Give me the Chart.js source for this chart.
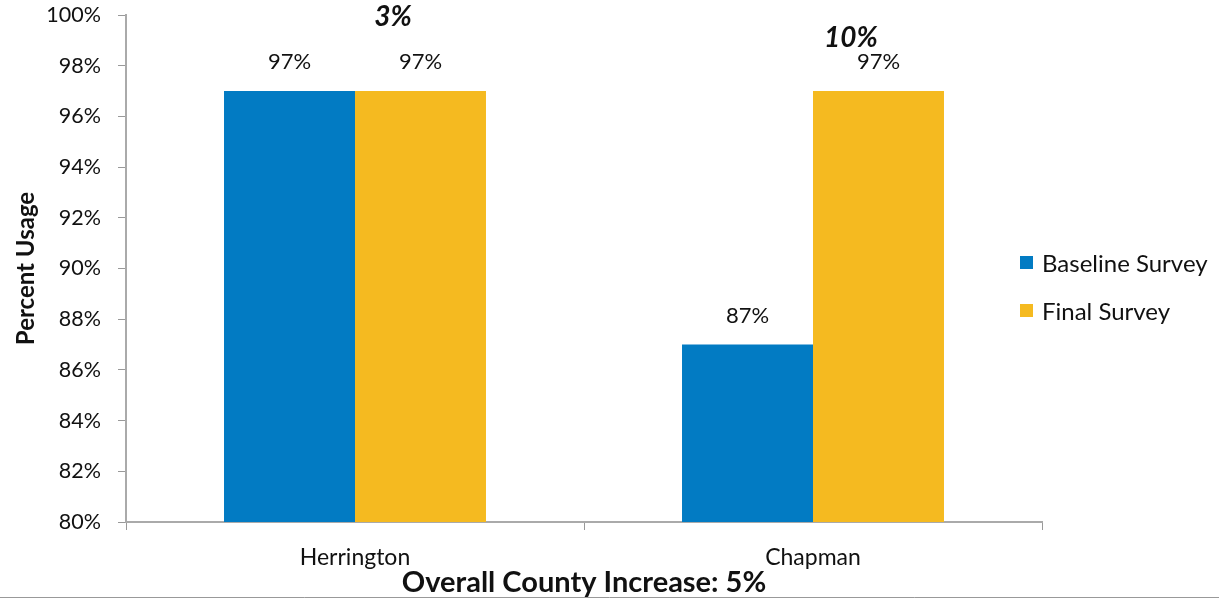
<!DOCTYPE html>
<html>
<head>
<meta charset="utf-8">
<script src="https://cdn.jsdelivr.net/npm/chart.js@4"></script>
<style>
  html, body { margin: 0; padding: 0; background: #fff; }
  #wrap { width: 1219px; height: 599px; }
</style>
</head>
<body>
<div id="wrap"><canvas id="usage_chart"></canvas></div>
<script>
const categories = ['Herrington', 'Chapman'];
const baseline = [97, 87];
const finalSurvey = [97, 97];
const increases = ['3%', '10%'];
const yTicks = [80, 82, 84, 86, 88, 90, 92, 94, 96, 98, 100];
const overallText = 'Overall County Increase: 5%';

const FONT = 'Lato, "Open Sans", sans-serif';
const BLUE = '#027BC3';
const GOLD = '#F5BA20';

// value labels above bars + increase notes + footer + legend
const extras = {
  id: 'extras',
  afterDatasetsDraw(chart) {
    const ctx = chart.ctx;
    ctx.save();
    ctx.fillStyle = '#111';
    ctx.textAlign = 'center';
    ctx.textBaseline = 'middle';
    ctx.font = '22px ' + FONT;
    chart.data.datasets.forEach((ds, i) => {
      chart.getDatasetMeta(i).data.forEach((bar, j) => {
        ctx.fillText(ds.data[j] + '%', bar.x, bar.y - 29);
      });
    });

    // increase notes
    const b0 = chart.getDatasetMeta(0).data;
    const noteY = [17, 38];
    ctx.font = 'italic bold 28px ' + FONT;
    increases.forEach((txt, j) => {
      const x = b0[j].x + b0[j].width / 2 + 38;
      ctx.fillText(txt, x, noteY[j]);
    });

    // footer
    ctx.font = 'bold 29px ' + FONT;
    ctx.fillText(overallText, 584, 583);
    ctx.strokeStyle = '#999';
    ctx.lineWidth = 1;
    ctx.beginPath();
    ctx.moveTo(0, 597.5);
    ctx.lineTo(chart.width, 597.5);
    ctx.stroke();

    // legend
    ctx.textAlign = 'left';
    ctx.font = '24px ' + FONT;
    chart.data.datasets.forEach((ds, i) => {
      const y = 264 + i * 48;
      ctx.fillStyle = ds.backgroundColor;
      ctx.fillRect(1020, y - 8, 13, 13);
      ctx.fillStyle = '#111';
      ctx.fillText(ds.label, 1042, y);
    });
    ctx.restore();
  }
};

const data = {
  labels: categories,
  datasets: [
    { label: 'Baseline Survey', data: baseline, backgroundColor: BLUE },
    { label: 'Final Survey', data: finalSurvey, backgroundColor: GOLD }
  ]
};

const config = {
  type: 'bar',
  data,
  options: {
    responsive: true,
    maintainAspectRatio: false,
    animation: false,
    layout: { padding: { top: 15, right: 177, left: 0, bottom: 0 } },
    categoryPercentage: 0.572,
    barPercentage: 1,
    scales: {
      x: {
        grid: { drawOnChartArea: false, tickLength: 8, color: '#999', offset: true },
        border: { color: '#aaa', width: 2 },
        ticks: { color: '#111', font: { family: FONT, size: 23 }, padding: 14 },
        afterFit(scale) { scale.height = 77; scale.paddingLeft = 0; scale.paddingRight = 0; }
      },
      y: {
        min: 80,
        max: 100,
        afterBuildTicks(scale) { scale.ticks = yTicks.map(v => ({ value: v })); },
        grid: { drawOnChartArea: false, tickLength: 8, color: '#999' },
        border: { color: '#aaa', width: 2 },
        ticks: {
          color: '#111',
          font: { family: FONT, size: 21.5 },
          padding: 17,
          callback: v => v + '%'
        },
        title: {
          display: true,
          text: 'Percent Usage',
          color: '#111',
          font: { family: FONT, size: 24, weight: 'bold' },
          padding: { top: 12, bottom: 0 }
        },
        afterFit(scale) { scale.width = 126; scale.paddingTop = 0; scale.paddingBottom = 0; }
      }
    },
    plugins: {
      legend: { display: false },
      tooltip: { enabled: false }
    }
  },
  plugins: [extras]
};

const usage_chart = new Chart(document.getElementById('usage_chart'), config);
</script>
</body>
</html>
